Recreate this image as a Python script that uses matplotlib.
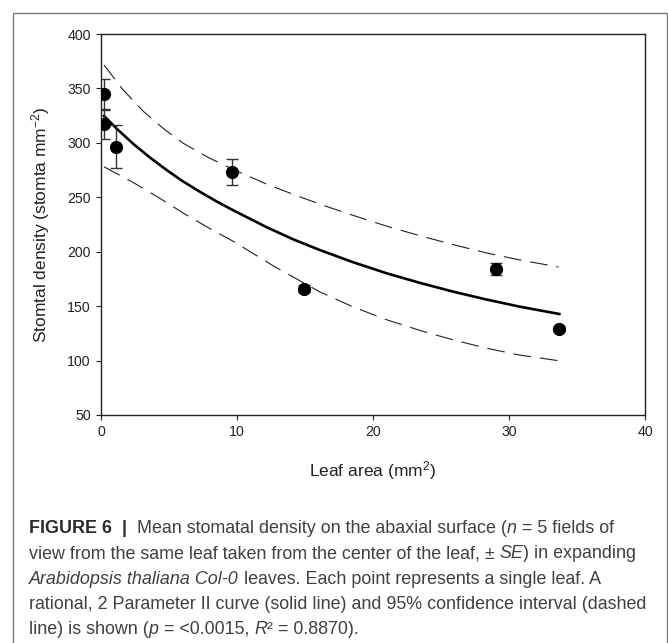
import matplotlib
matplotlib.use('Agg')
import matplotlib.pyplot as plt
from matplotlib.patches import Rectangle

# measured leaves: leaf area (mm2), stomatal density and SE
leaf_area = [0.22, 0.22, 1.13, 9.65, 14.9, 29.04, 33.68]
density = [345, 317, 296.5, 273, 166, 184, 129]
density_se = [14, 13, 19.5, 12, 3, 5.5, 2]

# fitted curve (rational, 2 parameter II)
fit_x = [0.22, 1.2, 2.38, 3.6, 4.83, 6.0, 7.28, 8.5, 9.73, 12.18, 14.2, 16.1, 18.5, 21.0, 23.5, 25.9, 28.3, 30.8, 33.7]
fit_y = [324.7, 312.5, 299.0, 286.5, 275.0, 264.8, 255.0, 246.2, 238.0, 222.5, 211.0, 201.5, 190.5, 180.2, 171.2, 163.3, 156.2, 149.5, 142.8]

# 95% confidence interval
up_x = [0.22, 1.6, 3.11, 4.6, 6.05, 7.9, 9.73, 12.2, 14.6, 16.84, 19.0, 21.0, 23.5, 25.9, 28.3, 30.8, 33.63]
up_y = [371.5, 349.0, 329.0, 313.0, 299.6, 286.5, 275.5, 262.0, 250.5, 240.5, 231.5, 223.5, 214.5, 206.5, 199.0, 192.4, 186.0]
lo_x = [0.22, 2.38, 4.2, 6.05, 7.9, 9.73, 12.67, 16.1, 18.5, 21.0, 23.5, 25.9, 28.3, 30.8, 33.63]
lo_y = [278.0, 263.5, 250.0, 235.5, 222.0, 209.5, 187.0, 163.0, 149.5, 137.5, 127.5, 119.0, 111.5, 105.0, 99.9]

xticks = [0, 10, 20, 30, 40]
yticks = [50, 100, 150, 200, 250, 300, 350, 400]

plt.rcParams['font.family'] = ['Liberation Sans', 'DejaVu Sans']
plt.rcParams['mathtext.fontset'] = 'custom'
plt.rcParams['mathtext.rm'] = 'Liberation Sans'
plt.rcParams['mathtext.it'] = 'Liberation Sans:italic'

W, H = 668, 643
fig = plt.figure(figsize=(W / 100, H / 100), dpi=100)
ax = fig.add_axes([101 / W, 1 - 415 / H, 544 / W, 381 / H])

ax.plot(fit_x, fit_y, color='black', lw=1.9)
ax.plot(up_x, up_y, color='#222222', lw=0.8, dashes=(16, 8))
ax.plot(lo_x, lo_y, color='#222222', lw=0.8, dashes=(16, 8))
ax.errorbar(leaf_area, density, yerr=density_se, fmt='o', color='black',
            ms=8.5, ecolor='#333333', elinewidth=1, capsize=4, capthick=1, zorder=5)

ax.set_xlim(0, 40)
ax.set_ylim(50, 400)
ax.set_xticks(xticks)
ax.set_yticks(yticks)
ax.tick_params(direction='out', length=3.5, width=0.8, labelsize=10.2,
               colors='#222222', pad=4)
for s in ax.spines.values():
    s.set_linewidth(1.0)
    s.set_color('#222222')

fig.text(40.5 / W, 1 - 224.5 / H, 'Stomtal density (stomta mm$^{-2}$)',
         rotation=90, ha='center', va='center', fontsize=12.5, color='#222222')
fig.text(373 / W, 1 - 471 / H, 'Leaf area (mm$^{2}$)',
         ha='center', va='center', fontsize=12.5, color='#222222')

# outer frame
fig.patches.append(Rectangle((13 / W, -0.05), 654 / W, 1.05 - 12.5 / H,
                             transform=fig.transFigure, fill=False,
                             edgecolor='#7a7a7a', lw=1.0))

# caption
renderer = fig.canvas.get_renderer()
cap_fs = 12.85
cap_col = '#404040'
caption = [
    [('FIGURE 6', 'b'), ('  |  ', 'b'), ('Mean stomatal density on the abaxial surface (', 'r'),
     ('n', 'i'), (' = 5 fields of', 'r')],
    [('view from the same leaf taken from the center of the leaf, \u00b1 ', 'r'), ('SE', 'i'),
     (') in expanding', 'r')],
    [('Arabidopsis thaliana Col-0', 'i'), (' leaves. Each point represents a single leaf. A', 'r')],
    [('rational, 2 Parameter II curve (solid line) and 95% confidence interval (dashed', 'r')],
    [('line) is shown (', 'r'), ('p', 'i'), (' = <0.0015, ', 'r'), ('R', 'i'), ('\u00b2', 'r'),
     (' = 0.8870).', 'r')],
]
baselines = [533, 558.5, 584, 609, 634]
for parts, yb in zip(caption, baselines):
    x = 29 / W
    for txt, st in parts:
        t = fig.text(x, 1 - yb / H, txt, fontsize=cap_fs, va='baseline', ha='left',
                     color='#2a2a2a' if st == 'b' else cap_col,
                     fontweight='bold' if st == 'b' else 'normal',
                     fontstyle='italic' if st == 'i' else 'normal')
        bb = t.get_window_extent(renderer)
        x += bb.width / fig.bbox.width

fig.savefig('out.png', dpi=100)
